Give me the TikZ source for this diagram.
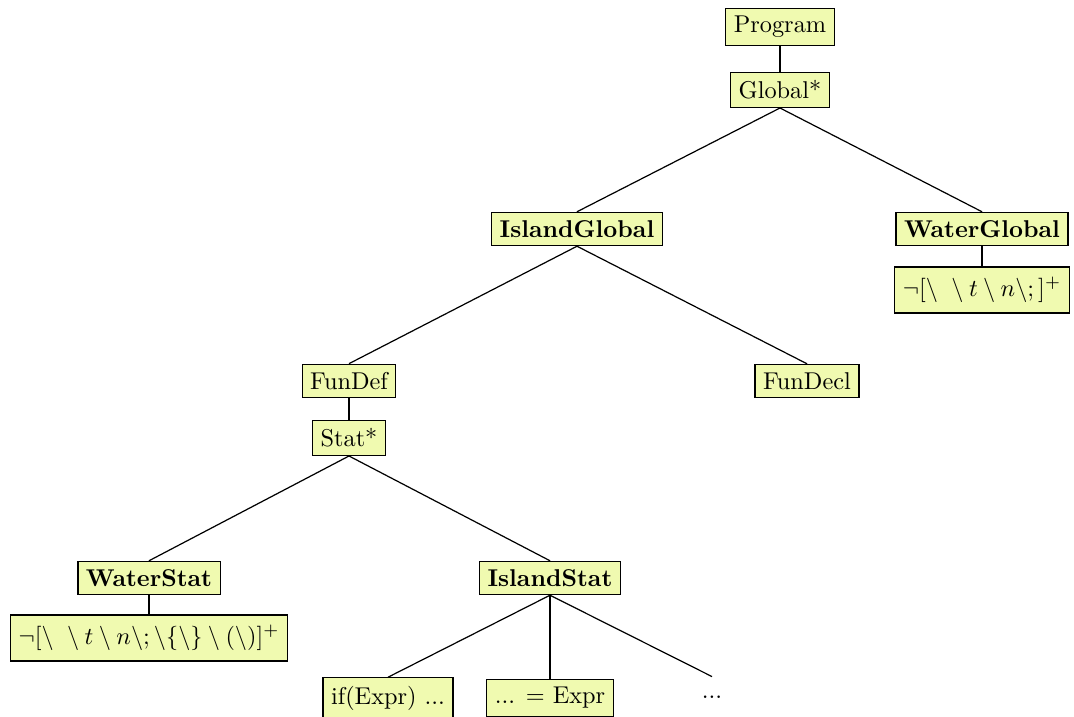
\documentclass[tikz,border=0pt]{standalone}
\usepackage{amssymb}
\definecolor{boxfill}{RGB}{240,250,176}
\begin{document}
\begin{tikzpicture}[x=0.4115pt,y=-0.4115pt,
  tnode/.style={draw=black,fill=boxfill,inner sep=3.3pt,line width=0.5pt},
  bnode/.style={tnode,font=\bfseries},
  rnode/.style={tnode,inner ysep=4.2pt},
  plain/.style={inner sep=3.3pt,minimum height=16.4pt},
  link/.style={draw=black,line width=0.5pt}]
\useasboundingbox (0,0) rectangle (1074,717);
% top level
\node[tnode] (prog) at (780,27) {Program};
\node[tnode] (glob) at (780,90) {Global*};
\node[bnode] (iglob) at (577,229) {IslandGlobal};
\node[bnode] (wglob) at (982,229) {WaterGlobal};
\node[rnode] (wgre) at (982,290) {$\neg[\backslash\ \setminus t\setminus n\backslash;]^+$};
% functions
\node[tnode] (fdef) at (349,381) {FunDef};
\node[tnode] (fdecl) at (807,381) {FunDecl};
\node[tnode] (stat) at (349,438) {Stat*};
% statements
\node[bnode] (wstat) at (149,578) {WaterStat};
\node[rnode] (wsre) at (149,638) {$\neg[\backslash\ \setminus t\setminus n\backslash;\backslash\{\backslash\}\setminus(\backslash)]^+$};
\node[bnode] (istat) at (550,578) {IslandStat};
\node[tnode] (ifx) at (388,698) {if(Expr) ...};
\node[tnode] (asg) at (550,698) {... = Expr};
\node[plain] (more) at (712,697) {...};
% connectors
\draw[link] (prog.south) -- (glob.north);
\draw[link] (glob.south) -- (iglob.north);
\draw[link] (glob.south) -- (wglob.north);
\draw[link] (wglob.south) -- (wgre.north);
\draw[link] (iglob.south) -- (fdef.north);
\draw[link] (iglob.south) -- (fdecl.north);
\draw[link] (fdef.south) -- (stat.north);
\draw[link] (stat.south) -- (wstat.north);
\draw[link] (stat.south) -- (istat.north);
\draw[link] (wstat.south) -- (wsre.north);
\draw[link] (istat.south) -- (ifx.north);
\draw[link] (istat.south) -- (asg.north);
\draw[link] (istat.south) -- (more.north);
\end{tikzpicture}
\end{document}
